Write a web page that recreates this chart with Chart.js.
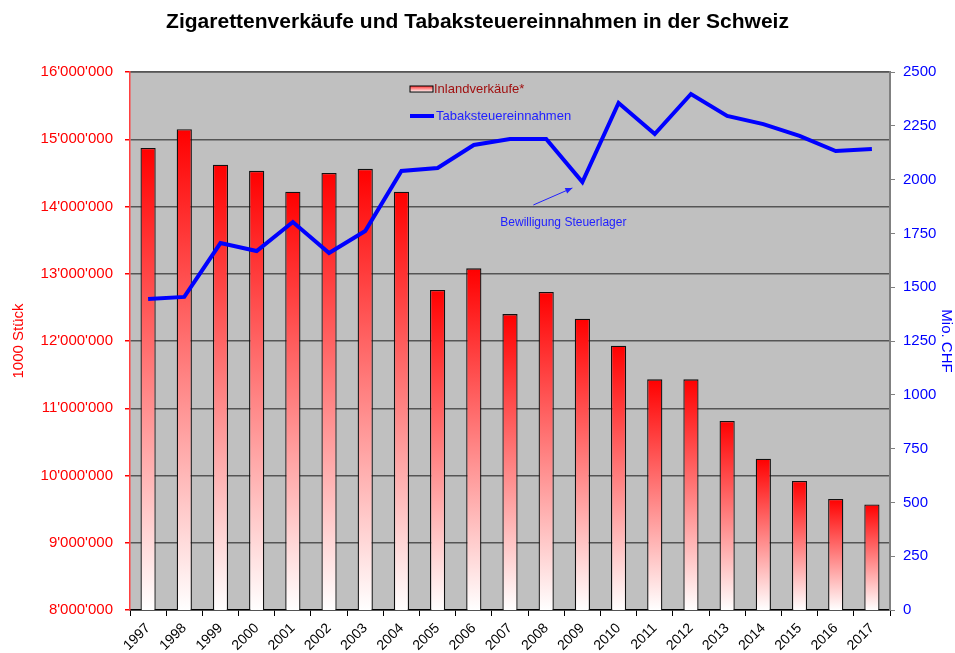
<!DOCTYPE html>
<html><head><meta charset="utf-8">
<script src="https://cdn.jsdelivr.net/npm/chart.js@4"></script>
<style>html,body{margin:0;padding:0;background:#fff}#wrap{width:955px;height:653px}</style>
</head><body><div id="wrap"><canvas id="c" width="955" height="653"></canvas></div>
<script>
const years = ['1997','1998','1999','2000','2001','2002','2003','2004','2005','2006','2007','2008','2009','2010','2011','2012','2013','2014','2015','2016','2017'];
const sales = [14870000,15150000,14620000,14530000,14220000,14500000,14560000,14220000,12760000,13080000,12400000,12730000,12330000,11930000,11430000,11430000,10810000,10250000,9920000,9650000,9570000];
const taxRevenue = [1445,1455,1705,1668,1803,1659,1761,2040,2054,2161,2189,2189,1989,2356,2212,2398,2296,2258,2203,2133,2142];
const leftTicksFmt = v => String(Math.round(v)).replace(/\B(?=(\d{3})+(?!\d))/g, "'");
const FONT = 'Liberation Sans, Arial, sans-serif';

const bgPlugin = {
  id: 'bg',
  beforeDraw(chart) {
    const {ctx, chartArea: a} = chart;
    ctx.save();
    ctx.fillStyle = '#c0c0c0';
    ctx.fillRect(a.left, a.top, a.right - a.left, a.bottom - a.top);
    ctx.strokeStyle = '#808080';
    ctx.lineWidth = 2;
    ctx.beginPath();
    ctx.moveTo(a.left, a.top); ctx.lineTo(a.right, a.top); ctx.lineTo(a.right, a.bottom);
    ctx.stroke();
    ctx.restore();
  }
};

const overlayPlugin = {
  id: 'overlay',
  afterDatasetsDraw(chart) {
    const {ctx} = chart;
    const xs = chart.scales.x, y1 = chart.scales.y1;
    ctx.save();
    // legend
    const lx = 410, ly1 = 89, ly2 = 116;
    const g = ctx.createLinearGradient(0, ly1 - 3, 0, ly1 + 3);
    g.addColorStop(0, '#ff3030'); g.addColorStop(1, '#ffffff');
    ctx.fillStyle = g;
    ctx.fillRect(lx, ly1 - 3, 23, 6);
    ctx.strokeStyle = '#000'; ctx.lineWidth = 1;
    ctx.strokeRect(lx, ly1 - 3, 23, 6);
    ctx.font = '13px ' + FONT;
    ctx.textBaseline = 'middle';
    ctx.textAlign = 'left';
    ctx.fillStyle = '#a01010';
    ctx.fillText('Inlandverkäufe*', lx + 24, ly1);
    ctx.strokeStyle = '#0000ff'; ctx.lineWidth = 4;
    ctx.beginPath(); ctx.moveTo(lx, ly2); ctx.lineTo(lx + 24, ly2); ctx.stroke();
    ctx.fillStyle = '#2020ff';
    ctx.fillText('Tabaksteuereinnahmen', lx + 26, ly2);
    // annotation
    const px = xs.getPixelForValue(12);
    const py = y1.getPixelForValue(taxRevenue[12]);
    const tipX = px - 10, tipY = py + 6, sX = px - 49, sY = py + 23;
    ctx.strokeStyle = '#2020ff'; ctx.fillStyle = '#2020ff'; ctx.lineWidth = 1;
    ctx.beginPath(); ctx.moveTo(sX, sY); ctx.lineTo(tipX, tipY); ctx.stroke();
    const ang = Math.atan2(tipY - sY, tipX - sX);
    ctx.beginPath();
    ctx.moveTo(tipX, tipY);
    ctx.lineTo(tipX - 7 * Math.cos(ang) + 3 * Math.sin(ang), tipY - 7 * Math.sin(ang) - 3 * Math.cos(ang));
    ctx.lineTo(tipX - 7 * Math.cos(ang) - 3 * Math.sin(ang), tipY - 7 * Math.sin(ang) + 3 * Math.cos(ang));
    ctx.closePath(); ctx.fill();
    ctx.textAlign = 'center';
    ctx.font = '12px ' + FONT;
    ctx.fillText('Bewilligung Steuerlager', px - 19, py + 41);
    ctx.restore();
  }
};

new Chart(document.getElementById('c'), {
  data: {
    labels: years,
    datasets: [
      {
        type: 'line', label: 'Tabaksteuereinnahmen', data: taxRevenue, yAxisID: 'y1',
        borderColor: '#0000ff', borderWidth: 4, pointRadius: 0, tension: 0, order: 0
      },
      {
        type: 'bar', label: 'Inlandverkäufe*', data: sales, yAxisID: 'y',
        backgroundColor(ctx) {
          const chart = ctx.chart;
          if (!chart.chartArea || ctx.dataIndex === undefined) return '#ff0000';
          const top = chart.scales.y.getPixelForValue(ctx.raw);
          const bot = chart.chartArea.bottom;
          const g = chart.ctx.createLinearGradient(0, top, 0, bot);
          g.addColorStop(0, '#ff0000');
          g.addColorStop(1, '#ffffff');
          return g;
        },
        borderColor: '#111', borderWidth: 1.3, borderSkipped: 'bottom',
        barPercentage: 0.42, categoryPercentage: 1, order: 1
      }
    ]
  },
  options: {
    responsive: false, animation: false,
    layout: { padding: { left: 0, right: 0, bottom: 0, top: 0 } },
    plugins: {
      legend: { display: false },
      tooltip: { enabled: false },
      title: {
        display: true, text: 'Zigarettenverkäufe und Tabaksteuereinnahmen in der Schweiz',
        color: '#000', font: { family: FONT, size: 21, weight: 'bold' },
        padding: { top: 10, bottom: 36.8 }
      }
    },
    scales: {
      x: {
        offset: true,
        grid: { offset: true, drawOnChartArea: false, color: '#000', tickLength: 6 },
        border: { color: '#000', width: 1.5 },
        ticks: { color: '#000', font: { family: FONT, size: 14 }, minRotation: 45, maxRotation: 45, padding: 4 },
        afterFit(s) { s.height = 43; }
      },
      y: {
        position: 'left', min: 8000000, max: 16000000,
        ticks: { stepSize: 1000000, color: '#ff0000', font: { family: FONT, size: 15 }, callback: leftTicksFmt, padding: 12 },
        grid: { color: '#555', lineWidth: 1.5, tickLength: 5, tickColor: '#ff0000' },
        border: { color: '#ff4040', width: 1.5 },
        title: { display: true, text: '1000 Stück', color: '#ff0000', font: { family: FONT, size: 15 }, padding: { top: 10, bottom: 0 } },
        afterFit(s) { s.width = 130; }
      },
      y1: {
        position: 'right', min: 0, max: 2500,
        ticks: { stepSize: 250, color: '#0000ff', font: { family: FONT, size: 15 }, padding: 8, callback: v => String(v) },
        grid: { drawOnChartArea: false, color: '#808080', tickLength: 5 },
        border: { color: '#808080', width: 2 },
        title: { display: true, text: 'Mio. CHF', color: '#0000ff', font: { family: FONT, size: 15 }, padding: 0 },
        afterFit(s) { s.width = 65; }
      }
    }
  },
  plugins: [bgPlugin, overlayPlugin]
});
</script>
</body></html>
